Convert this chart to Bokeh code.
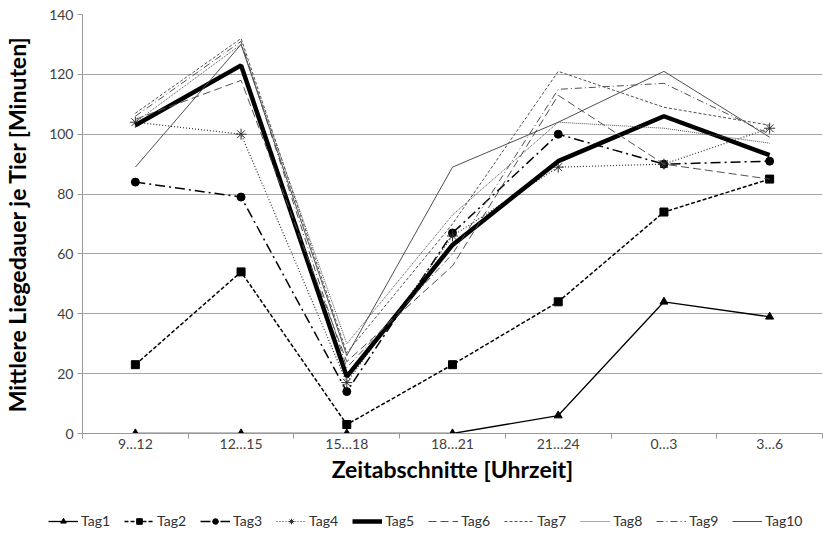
from bokeh.plotting import figure
from bokeh.models import FixedTicker, Legend, LegendItem, Range1d
from bokeh.embed import file_html
from bokeh.resources import INLINE

categories = ["9…12", "12…15", "15…18", "18…21", "21…24", "0…3", "3…6"]
tag1 = [0, 0, 0, 0, 6, 44, 39]
tag2 = [23, 54, 3, 23, 44, 74, 85]
tag3 = [84, 79, 14, 67, 100, 90, 91]
tag4 = [104, 100, 17, 66, 89, 90, 102]
tag5 = [103, 123, 19, 63, 91, 106, 93]
tag6 = [105, 118, 24, 56, 113, 90, 85]
tag7 = [107, 132, 27, 70, 121, 109, 103]
tag8 = [104, 130, 30, 73, 104, 102, 97]
tag9 = [106, 131, 22, 60, 115, 117, 100]
tag10 = [89, 130, 26, 89, 104, 121, 99]
y_ticks = [0, 20, 40, 60, 80, 100, 120, 140]

FONT = "Lato"
xs = [i + 0.5 for i in range(len(categories))]

p = figure(width=823, height=500, output_backend="svg", toolbar_location=None,
           x_range=Range1d(0, len(categories)), y_range=Range1d(0, 140),
           min_border_left=82, min_border_right=1, min_border_top=14, min_border_bottom=67)
p.outline_line_color = None

# separate strip holding the legend below the chart
lg = figure(width=823, height=36, output_backend="svg", toolbar_location=None,
            x_range=Range1d(0, len(categories)), y_range=Range1d(0, 140),
            x_axis_location=None, y_axis_location=None,
            min_border_left=0, min_border_right=0, min_border_top=0, min_border_bottom=0)
lg.outline_line_color = None
lg.grid.visible = False

series = [
    ("Tag1", tag1, dict(line_color="black", line_width=1.3), ("triangle", 8, "black")),
    ("Tag2", tag2, dict(line_color="black", line_width=1.5, line_dash="4 2"), ("square", 8, "black")),
    ("Tag3", tag3, dict(line_color="black", line_width=1.5, line_dash="10 4 2 4"), ("circle", 8, "black")),
    ("Tag4", tag4, dict(line_color="#303030", line_width=1.2, line_dash="1 2"), ("asterisk", 11, "#303030")),
    ("Tag5", tag5, dict(line_color="black", line_width=4.5), None),
    ("Tag6", tag6, dict(line_color="#505050", line_width=1, line_dash="8 4"), None),
    ("Tag7", tag7, dict(line_color="#505050", line_width=1, line_dash="3 2"), None),
    ("Tag8", tag8, dict(line_color="#505050", line_width=1, line_dash="1 1"), None),
    ("Tag9", tag9, dict(line_color="#505050", line_width=1, line_dash="7 3 1 3"), None),
    ("Tag10", tag10, dict(line_color="#505050", line_width=1), None),
]

items = []
for name, vals, style, marker in series:
    p.line(xs, vals, **style)
    rs = [lg.line(xs, vals, visible=False, **style)]
    if marker:
        m, s, c = marker
        p.scatter(xs, vals, marker=m, size=s, fill_color=c, line_color=c, line_width=1)
        rs.append(lg.scatter(xs, vals, marker=m, size=s, fill_color=c, line_color=c,
                             line_width=1, visible=False))
    items.append(LegendItem(label=name, renderers=rs))

# axes
xa = p.xaxis[0]
xa.ticker = FixedTicker(ticks=xs, minor_ticks=list(range(len(categories) + 1)))
xa.major_label_overrides = {x: c for x, c in zip(xs, categories)}
xa.major_tick_out = 0
xa.major_tick_in = 0
xa.minor_tick_out = 5
xa.minor_tick_in = 0
xa.minor_tick_line_color = "#999999"
xa.axis_line_color = "#999999"
xa.major_label_text_font = FONT
xa.major_label_text_font_size = "14px"
xa.major_label_text_color = "#404040"
xa.major_label_standoff = -4
xa.axis_label = "Zeitabschnitte [Uhrzeit]"
xa.axis_label_text_font = FONT
xa.axis_label_text_font_style = "bold"
xa.axis_label_text_font_size = "23px"
xa.axis_label_text_color = "black"
xa.axis_label_standoff = 0

ya = p.yaxis[0]
ya.ticker = FixedTicker(ticks=y_ticks, minor_ticks=[])
ya.major_tick_out = 5
ya.major_tick_in = 0
ya.major_tick_line_color = "#999999"
ya.axis_line_color = "#999999"
ya.major_label_text_font = FONT
ya.major_label_text_font_size = "14px"
ya.major_label_text_color = "#404040"
ya.major_label_standoff = 4
ya.axis_label = "Mittlere Liegedauer je Tier [Minuten]"
ya.axis_label_text_font = FONT
ya.axis_label_text_font_style = "bold"
ya.axis_label_text_font_size = "23px"
ya.axis_label_text_color = "black"
ya.axis_label_standoff = 15

p.xgrid.grid_line_color = None
p.ygrid.grid_line_color = "#a6a6a6"
p.ygrid.ticker = FixedTicker(ticks=y_ticks)

legend = Legend(items=items, orientation="horizontal", location=(48, 7),
                glyph_width=30, glyph_height=14, label_standoff=3, spacing=14,
                label_text_font=FONT, label_text_font_size="14px",
                label_text_color="#303030", border_line_color=None,
                padding=0, margin=0, background_fill_alpha=0,
                inactive_fill_alpha=0, click_policy="none")
lg.add_layout(legend, "center")

open("out.html", "w").write(file_html([p, lg], INLINE))
